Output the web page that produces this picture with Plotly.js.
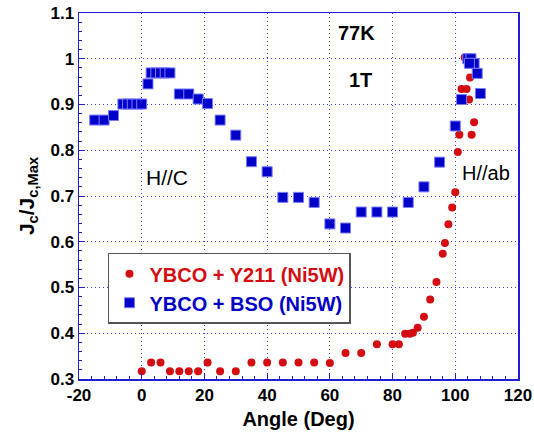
<!DOCTYPE html>
<html><head><meta charset="utf-8">
<script src="https://cdn.plot.ly/plotly-3.0.1.min.js"></script>
<style>body{margin:0;padding:0;background:#fff}#c{width:534px;height:436px}</style>
</head><body><div id="c"></div>
<script>
var bsoX = [-15, -12, -9, -6, -4.5, -3, -1.5, 0, 2, 3, 4.5, 6, 7.5, 9, 12, 15, 18, 21, 25, 30, 35, 40, 45, 50, 55, 60, 65, 70, 75, 80, 85, 90, 95, 100, 102, 104, 105, 106, 104.5, 107, 108];
var bsoY = [0.866, 0.866, 0.876, 0.901, 0.901, 0.901, 0.901, 0.901, 0.945, 0.969, 0.969, 0.969, 0.969, 0.969, 0.923, 0.923, 0.912, 0.902, 0.866, 0.833, 0.775, 0.753, 0.697, 0.697, 0.686, 0.639, 0.630, 0.665, 0.665, 0.665, 0.686, 0.720, 0.774, 0.853, 0.911, 1.0, 1.0, 0.99, 0.99, 0.968, 0.924];
var y211X = [0, 3, 6, 9, 12, 15, 18, 21, 25, 30, 35, 40, 45, 50, 55, 60, 65, 70, 75, 80, 82, 84, 85.5, 86.5, 88, 90, 92, 94, 96, 96.7, 97.8, 99, 100, 100.8, 101.3, 105.2, 106, 104.4, 102, 103.6, 104.7, 103];
var y211Y = [0.317, 0.336, 0.336, 0.317, 0.317, 0.317, 0.317, 0.336, 0.317, 0.317, 0.336, 0.336, 0.336, 0.336, 0.336, 0.335, 0.357, 0.357, 0.376, 0.376, 0.376, 0.399, 0.399, 0.401, 0.412, 0.436, 0.474, 0.512, 0.574, 0.597, 0.638, 0.675, 0.708, 0.796, 0.834, 0.834, 0.861, 0.911, 0.934, 0.934, 0.959, 1.003];
var xTicks = [-20, 0, 20, 40, 60, 80, 100, 120];
var xTickText = ['-20', '0', '20', '40', '60', '80', '100', '120'];
var yTicks = [0.3, 0.4, 0.5, 0.6, 0.7, 0.8, 0.9, 1, 1.1];
var yTickText = ['0.3', '0.4', '0.5', '0.6', '0.7', '0.8', '0.9', '1', '1.1'];

var F = 'Arial, "Liberation Sans", sans-serif';
var red = '#d40d12', blue = '#0000c8', axc = '#2020d0';

var traces = [
  {x: y211X, y: y211Y, type: 'scatter', mode: 'markers', name: 'YBCO + Y211 (Ni5W)',
   marker: {symbol: 'circle', size: 8, color: red}},
  {x: bsoX, y: bsoY, type: 'scatter', mode: 'markers', name: 'YBCO + BSO (Ni5W)',
   marker: {symbol: 'square', size: 10, color: blue, line: {color: '#7a7aff', width: 1}}}
];
var axisCommon = {
  showline: true, linecolor: axc, linewidth: 1.5, mirror: true,
  ticks: 'inside', ticklen: 6, tickcolor: axc, tickwidth: 1,
  showgrid: true, gridcolor: '#4040e0', griddash: '1px,3px', gridwidth: 1,
  zeroline: false,
  tickfont: {family: F, size: 17, color: '#000', weight: 'bold'}
};
var layout = {
  width: 534, height: 436,
  margin: {l: 79, r: 16, t: 13, b: 57},
  paper_bgcolor: '#fff', plot_bgcolor: '#fff',
  showlegend: true,
  xaxis: Object.assign({}, axisCommon, {
    range: [-20, 120], tickvals: xTicks, ticktext: xTickText,
    minor: {ticks: 'inside', ticklen: 3, tickcolor: axc, dtick: 4, showgrid: false},
    title: {text: 'Angle (Deg)', font: {family: F, size: 20, color: '#000', weight: 'bold'}, standoff: 8}
  }),
  yaxis: Object.assign({}, axisCommon, {
    range: [0.3, 1.1], tickvals: yTicks, ticktext: yTickText,
    minor: {ticks: 'inside', ticklen: 3, tickcolor: axc, dtick: 0.02, showgrid: false},
    title: {text: 'J<sub>c</sub>/J<sub>c,Max</sub>', font: {family: F, size: 21, color: '#000', weight: 'bold'}, standoff: 10}
  }),
  legend: {
    x: 0.066, y: 0.345, xanchor: 'left', yanchor: 'top',
    bgcolor: '#fff', bordercolor: '#555', borderwidth: 1.5,
    font: {family: F, size: 20, weight: 'bold'},
    itemsizing: 'trace', tracegroupgap: 0
  },
  annotations: [
    {x: 68.6, y: 1.056, xref: 'x', yref: 'y', text: '<b>77K</b>', showarrow: false, font: {family: F, size: 20, color: '#000'}},
    {x: 69.9, y: 0.953, xref: 'x', yref: 'y', text: '<b>1T</b>', showarrow: false, font: {family: F, size: 20, color: '#000'}},
    {x: 8.1, y: 0.741, xref: 'x', yref: 'y', text: 'H//C', showarrow: false, font: {family: F, size: 21, color: '#000'}},
    {x: 109.9, y: 0.750, xref: 'x', yref: 'y', text: 'H//ab', showarrow: false, font: {family: F, size: 20, color: '#000'}}
  ]
};
Plotly.newPlot('c', traces, layout, {displayModeBar: false, staticPlot: true}).then(function(){
  var t = document.querySelectorAll('.legendtext');
  if (t[0]) t[0].style.fill = red;
  if (t[1]) t[1].style.fill = blue;
});
</script>
</body></html>
